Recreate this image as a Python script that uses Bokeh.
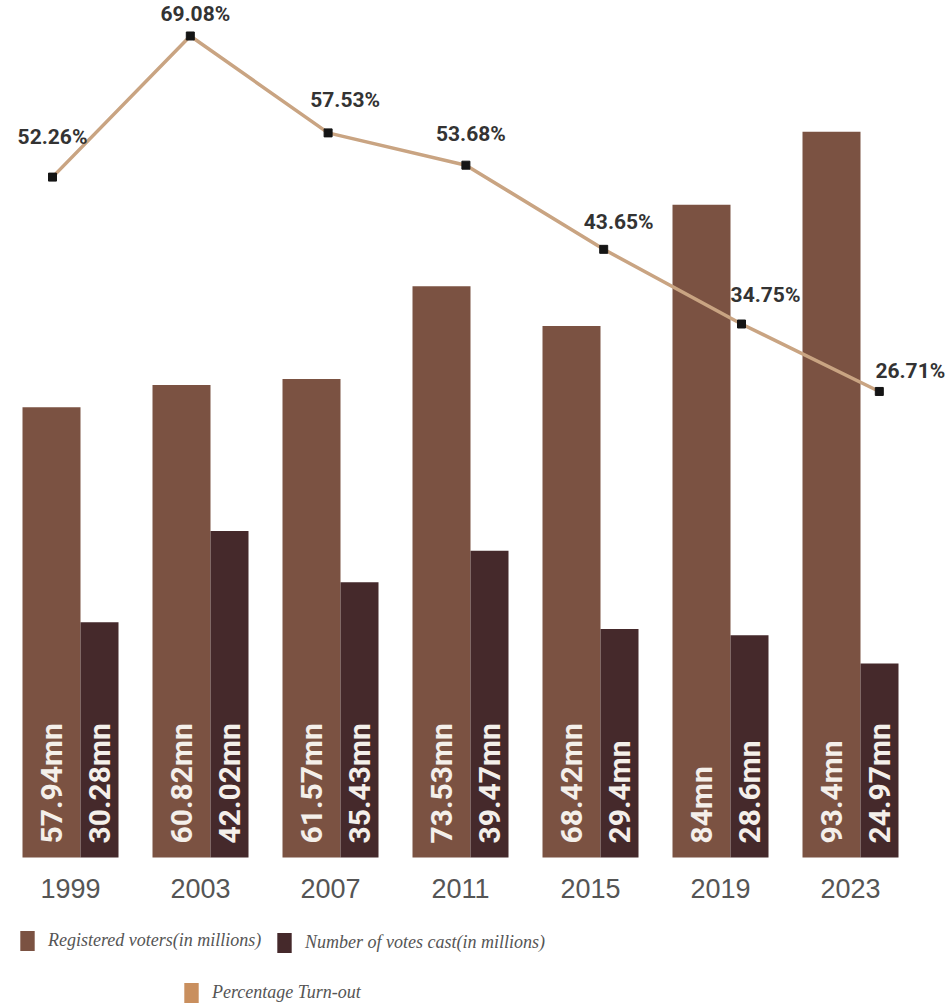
import numpy as np
from bokeh.plotting import figure
from bokeh.models import ColumnDataSource, Range1d, Legend, LegendItem
from bokeh.core.properties import value
from bokeh.embed import file_html
from bokeh.resources import INLINE

# ---- data ----
years = ["1999", "2003", "2007", "2011", "2015", "2019", "2023"]
registered = [57.94, 60.82, 61.57, 73.53, 68.42, 84.0, 93.4]
votes_cast = [30.28, 42.02, 35.43, 39.47, 29.4, 28.6, 24.97]
turnout = [52.26, 69.08, 57.53, 53.68, 43.65, 34.75, 26.71]
registered_labels = ["57.94mn", "60.82mn", "61.57mn", "73.53mn", "68.42mn", "84mn", "93.4mn"]
votes_labels = ["30.28mn", "42.02mn", "35.43mn", "39.47mn", "29.4mn", "28.6mn", "24.97mn"]
turnout_labels = ["52.26%", "69.08%", "57.53%", "53.68%", "43.65%", "34.75%", "26.71%"]

# ---- layout helpers (positions / styles) ----
label_dx = [0, 5, 17, 5, 15, 24, 31]
label_dy = [-40, -22, -33, -31, -27, -29, -20]

REG_C = "#7B5242"
VOTE_C = "#45292B"
TURN_C = "#C98F5E"
LINE_C = "#C9A482"

W, H = 946, 1007
GROUP = 130.0
PX_PER_UNIT = 7.77
BASE_PX = 857

idx = np.arange(len(years))
reg_x = idx - 19 / GROUP
vote_x = idx + 29 / GROUP

y0 = -(H - BASE_PX) / PX_PER_UNIT
p = figure(width=W, height=H, output_backend="svg", toolbar_location=None,
           x_range=Range1d(-70 / GROUP, (W - 70) / GROUP),
           y_range=Range1d(y0, y0 + H / PX_PER_UNIT),
           x_axis_location=None, y_axis_location=None,
           min_border=0, outline_line_color=None,
           background_fill_color="white", border_fill_color="white")
p.grid.visible = False

LSTEP = 137.8
p.extra_x_ranges = {"line_x": Range1d(-52 / LSTEP, (W - 52) / LSTEP)}
p.extra_y_ranges = {"pct": Range1d(-46.72, 73.31),
                    # range used only by the legend-swatch renderer (keeps its bars off-canvas)
                    "swatch": Range1d(1000, 2000)}

bar_src = ColumnDataSource(dict(reg_x=reg_x, vote_x=vote_x, registered=registered,
                                votes=votes_cast, reg_lab=registered_labels,
                                vote_lab=votes_labels, lab_y=[1.8] * len(years)))

r_reg = p.vbar(x="reg_x", top="registered", bottom=0, width=58 / GROUP, source=bar_src,
               fill_color=REG_C, line_color=None)
r_vote = p.vbar(x="vote_x", top="votes", bottom=0, width=38 / GROUP, source=bar_src,
                fill_color=VOTE_C, line_color=None)

for xcol, tcol in (("reg_x", "reg_lab"), ("vote_x", "vote_lab")):
    p.text(x=xcol, y="lab_y", text=tcol, source=bar_src, angle=np.pi / 2,
           text_align="left", text_baseline="middle", text_color="#F4EFEA",
           text_font=value("Roboto"), text_font_style="bold", text_font_size="30px")

# year labels
p.text(x=idx, y=[-4.0] * len(years), text=years, text_align="center", text_baseline="middle",
       text_color="#555555", text_font=value("Liberation Sans"), text_font_size="27px")

# turnout line
line_src = ColumnDataSource(dict(x=idx, y=turnout, lab=turnout_labels, dx=label_dx, dy=label_dy))
p.line(x="x", y="y", source=line_src, x_range_name="line_x", y_range_name="pct",
       line_color=LINE_C, line_width=3.5)
p.scatter(x="x", y="y", source=line_src, x_range_name="line_x", y_range_name="pct",
          marker="square", size=8, fill_color="#151515", line_color="#151515")
p.text(x="x", y="y", text="lab", source=line_src, x_range_name="line_x", y_range_name="pct",
       x_offset="dx", y_offset="dy", text_align="center", text_baseline="middle",
       text_color="#333333", text_font=value("Roboto"), text_font_style="bold",
       text_font_size="21px")

# legend swatch for turnout (square): bar renderer on an off-canvas range
r_turn_sw = p.vbar(x="x", top="y", bottom=0, width=0.1, source=line_src,
                   x_range_name="line_x", y_range_name="swatch",
                   fill_color=TURN_C, line_color=None)


def make_legend(label, rend, loc):
    lg = Legend(items=[LegendItem(label=label, renderers=[rend])], location=loc,
                orientation="horizontal", glyph_width=18, glyph_height=25, label_height=25,
                label_standoff=12, padding=0, margin=0, spacing=0,
                border_line_color=None, background_fill_alpha=0,
                label_text_font="Liberation Serif", label_text_font_style="italic",
                label_text_font_size="18px", label_text_color="#555555")
    p.add_layout(lg)


make_legend("Registered voters(in millions)", r_reg, (18, 54))
make_legend("Number of votes cast(in millions)", r_vote, (275, 52))
make_legend("Percentage Turn-out", r_turn_sw, (182, 2))

open("out.html", "w").write(file_html(p, INLINE))
